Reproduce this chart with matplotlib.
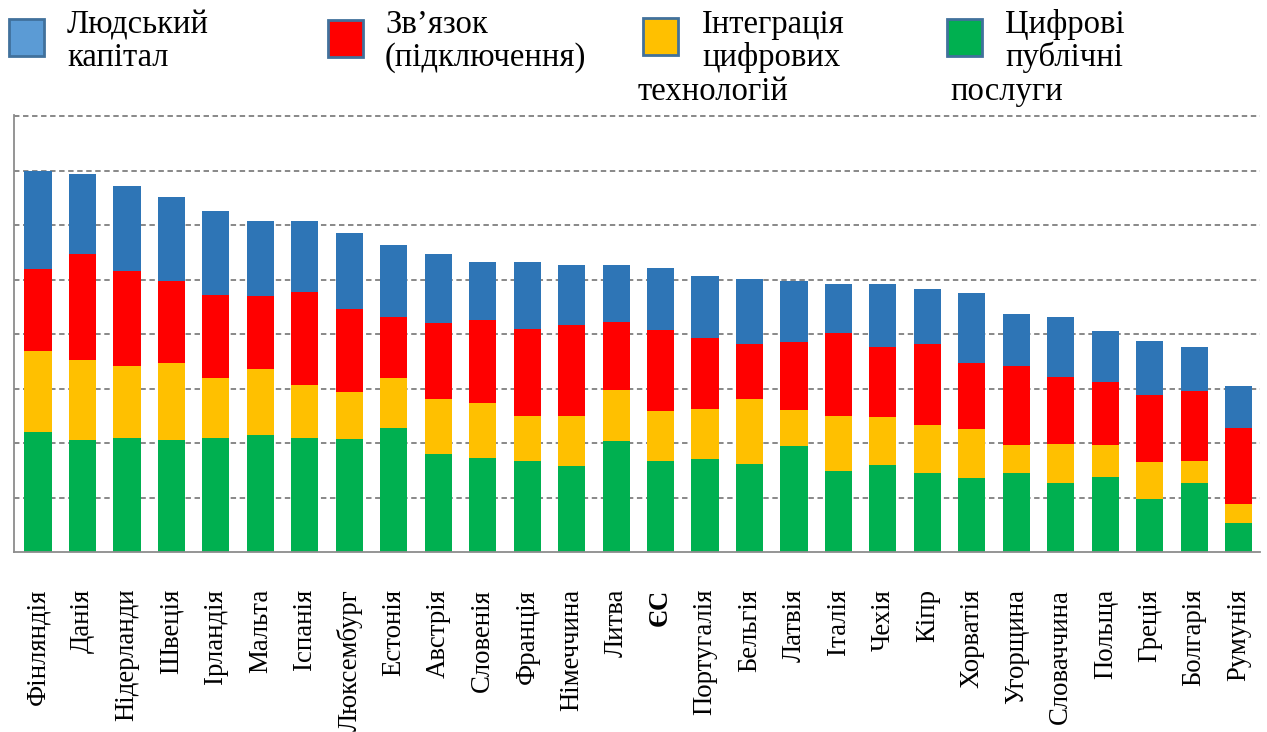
import numpy as np
import matplotlib.pyplot as plt
from matplotlib.patches import Rectangle

plt.rcParams['font.family'] = ['Liberation Serif', 'DejaVu Serif']

countries = ['Фінляндія', 'Данія', 'Нідерланди', 'Швеція', 'Ірландія', 'Мальта',
             'Іспанія', 'Люксембург', 'Естонія', 'Австрія', 'Словенія', 'Франція',
             'Німеччина', 'Литва', 'ЄС', 'Португалія', 'Бельгія', 'Латвія', 'Італія',
             'Чехія', 'Кіпр', 'Хорватія', 'Угорщина', 'Словаччина', 'Польща',
             'Греція', 'Болгарія', 'Румунія']

# digital public services (bottom), integration, connectivity, human capital (top)
public = [0.220, 0.205, 0.210, 0.205, 0.210, 0.214, 0.210, 0.208, 0.228, 0.179,
          0.172, 0.167, 0.158, 0.204, 0.167, 0.170, 0.162, 0.194, 0.148, 0.159,
          0.145, 0.135, 0.145, 0.127, 0.138, 0.097, 0.127, 0.054]
integration = [0.149, 0.148, 0.131, 0.141, 0.109, 0.122, 0.096, 0.086, 0.091, 0.101,
               0.101, 0.082, 0.091, 0.094, 0.092, 0.093, 0.119, 0.067, 0.101, 0.088,
               0.088, 0.090, 0.051, 0.071, 0.058, 0.068, 0.040, 0.035]
connect = [0.151, 0.194, 0.175, 0.151, 0.152, 0.133, 0.172, 0.152, 0.112, 0.141,
           0.152, 0.161, 0.168, 0.124, 0.149, 0.129, 0.100, 0.124, 0.153, 0.130,
           0.149, 0.122, 0.145, 0.123, 0.116, 0.124, 0.128, 0.139]
human = [0.180, 0.147, 0.156, 0.154, 0.154, 0.138, 0.129, 0.140, 0.132, 0.125,
         0.107, 0.122, 0.110, 0.105, 0.113, 0.115, 0.120, 0.113, 0.089, 0.114,
         0.101, 0.128, 0.096, 0.111, 0.093, 0.099, 0.081, 0.076]

# legend lines (line 3 starts further left, under the patch)
legend_lines = [['Людський', 'капітал', ''],
                ['Зв’язок', '(підключення)', ''],
                ['Інтеграція', 'цифрових', 'технологій'],
                ['Цифрові', 'публічні', 'послуги']]
bar_colors = ['#00B050', '#FFC000', '#FF0000', '#2E75B6']

W, H = 1267, 732
fig = plt.figure(figsize=(W / 100, H / 100), dpi=100)
ax = fig.add_axes([14 / W, 1 - 552 / H, 1246 / W, 437 / H])

x = np.arange(len(countries))
bottom = np.zeros(len(countries))
for vals, c in zip([public, integration, connect, human], bar_colors):
    ax.bar(x, vals, 0.61, bottom=bottom, color=c, zorder=2)
    bottom += np.array(vals)

ax.set_xlim(-0.54, len(countries) - 0.52)
ax.set_ylim(0, 0.802)
ax.set_yticks(np.arange(0.1, 0.81, 0.1))
ax.yaxis.grid(True, linestyle=(0, (3, 2)), color='#7f7f7f', linewidth=1.3, zorder=1)
ax.tick_params(axis='y', left=False, labelleft=False)
ax.tick_params(axis='x', length=0, pad=26.5)
ax.set_xticks(x)
ax.set_xticklabels(countries, rotation=90, fontsize=19.3, va='top')
for t in ax.get_xticklabels():
    if t.get_text() == 'ЄС':
        t.set_fontweight('bold')
for s in ['top', 'right']:
    ax.spines[s].set_visible(False)
for s in ['left', 'bottom']:
    ax.spines[s].set_color('#8c8c8c')
    ax.spines[s].set_linewidth(1.3)


def px(xp, yp):
    return xp / W, 1 - yp / H


# legend drawn by hand
patch_x = [9, 328, 643, 947]
patch_y = [19, 20, 18, 19]
patch_c = ['#5B9BD5', '#FF0000', '#FFC000', '#00B050']
text_x = [67, 385, 702, 1005]
line3_x = [67, 385, 638, 950]
baselines = [33, 66, 100]
for i in range(4):
    x0, y0 = px(patch_x[i], patch_y[i] + 37)
    fig.patches.append(Rectangle((x0, y0), 35 / W, 37 / H, transform=fig.transFigure,
                                 facecolor=patch_c[i], edgecolor='#41719C', lw=2))
    for j, line in enumerate(legend_lines[i]):
        if not line:
            continue
        lx = line3_x[i] if j == 2 else text_x[i]
        fig.text(*px(lx, baselines[j]), line, fontsize=23.5, va='baseline', ha='left')

fig.savefig('out.png', dpi=100)
